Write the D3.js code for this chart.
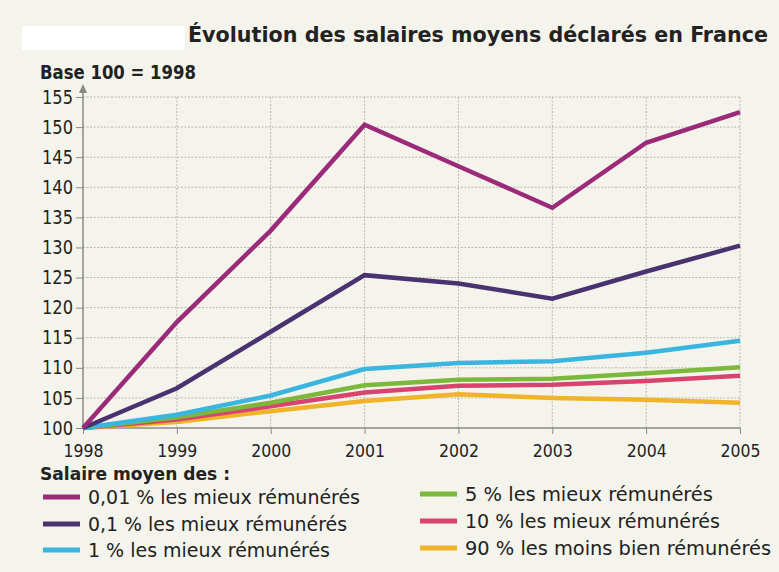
<!DOCTYPE html>
<html>
<head>
<meta charset="utf-8">
<script src="https://cdn.jsdelivr.net/npm/d3@7"></script>
<style>
  html, body { margin: 0; padding: 0; background: #f5f4ec; }
  svg { display: block; }
  text { font-family: 'DejaVu Sans Condensed', 'Liberation Sans Narrow', 'Roboto', sans-serif; fill: #222; }
</style>
</head>
<body>
<div id="chart"></div>
<script>
const years = [1998, 1999, 2000, 2001, 2002, 2003, 2004, 2005]
const yTicks = [100, 105, 110, 115, 120, 125, 130, 135, 140, 145, 150, 155]

const top001 = [100, 117.6, 132.8, 150.4, 143.5, 136.6, 147.4, 152.5]
const top01 = [100, 106.6, 116.0, 125.4, 124.0, 121.5, 126.0, 130.3]
const top1 = [100, 102.2, 105.4, 109.8, 110.8, 111.1, 112.5, 114.5]
const top5 = [100, 101.8, 104.2, 107.1, 108.0, 108.2, 109.1, 110.1]
const top10 = [100, 101.4, 103.6, 105.9, 107.0, 107.2, 107.8, 108.7]
const bottom90 = [100, 101.0, 102.8, 104.5, 105.6, 105.0, 104.7, 104.2]

const seriesNames = [
  '0,01 % les mieux rémunérés',
  '0,1 % les mieux rémunérés',
  '1 % les mieux rémunérés',
  '5 % les mieux rémunérés',
  '10 % les mieux rémunérés',
  '90 % les moins bien rémunérés'
]
const seriesValues = [top001, top01, top1, top5, top10, bottom90]
const seriesColors = ['#9b2a78', '#4a3270', '#3ab5e0', '#7cb83c', '#d8446f', '#efb42a']

const width = 779, height = 572
const svg = d3.select('#chart').append('svg')
  .attr('width', width)
  .attr('height', height)

svg.append('rect')
  .attr('width', width).attr('height', height)
  .attr('fill', '#f5f4ec')

// blank patch at top left
svg.append('rect')
  .attr('x', 22).attr('y', 26).attr('width', 163).attr('height', 24)
  .attr('fill', '#ffffff')

const x = d3.scaleLinear().domain([1998, 2005]).range([83, 740])
const y = d3.scaleLinear().domain([100, 155]).range([428, 97])

// grid
svg.append('g').selectAll('line.hgrid')
  .data(yTicks.slice(1))
  .join('line')
  .attr('class', 'hgrid')
  .attr('x1', x(1998)).attr('x2', x(2005))
  .attr('y1', d => y(d)).attr('y2', d => y(d))
  .attr('stroke', '#b9b8b0').attr('stroke-width', 1)
  .attr('stroke-dasharray', '2,1.5')
svg.append('g').selectAll('line.vgrid')
  .data(years.slice(1))
  .join('line')
  .attr('class', 'vgrid')
  .attr('x1', d => x(d)).attr('x2', d => x(d))
  .attr('y1', y(155)).attr('y2', y(100))
  .attr('stroke', '#b9b8b0').attr('stroke-width', 1)
  .attr('stroke-dasharray', '2,1.5')

// axes
const yAxis = d3.axisLeft(y).tickValues(yTicks).tickSize(7).tickPadding(3)
svg.append('g')
  .attr('transform', `translate(${x(1998)},0)`)
  .call(yAxis)
  .call(g => g.select('.domain').remove())
  .call(g => g.selectAll('line').attr('stroke', '#8a8a86'))
  .call(g => g.selectAll('text')
    .attr('font-size', 19).attr('font-family', null).attr('fill', '#222')
    .attr('textLength', 31).attr('lengthAdjust', 'spacingAndGlyphs'))

const xAxis = d3.axisBottom(x).tickValues(years).tickFormat(d3.format('d')).tickSize(6).tickPadding(11)
svg.append('g')
  .attr('transform', `translate(0,${y(100)})`)
  .call(xAxis)
  .call(g => g.select('.domain').remove())
  .call(g => g.selectAll('line').attr('stroke', '#8a8a86'))
  .call(g => g.selectAll('text')
    .attr('font-size', 17).attr('font-family', null).attr('fill', '#222')
    .attr('textLength', 40).attr('lengthAdjust', 'spacingAndGlyphs'))

svg.append('line')
  .attr('x1', x(1998)).attr('x2', x(2005))
  .attr('y1', y(100)).attr('y2', y(100))
  .attr('stroke', '#8a8a86').attr('stroke-width', 1.5)
svg.append('line')
  .attr('x1', x(1998)).attr('x2', x(1998))
  .attr('y1', y(100)).attr('y2', 90)
  .attr('stroke', '#8a8a86').attr('stroke-width', 1.5)
svg.append('path')
  .attr('d', `M${x(1998)},84 L${x(1998) - 4},93 L${x(1998) + 4},93 Z`)
  .attr('fill', '#8a8a86')

// lines
const line = d3.line()
  .x((d, i) => x(years[i]))
  .y(d => y(d))

svg.append('g').selectAll('path.serie')
  .data(seriesValues.map((v, i) => ({ values: v, color: seriesColors[i] })).reverse())
  .join('path')
  .attr('class', 'serie')
  .attr('d', d => line(d.values))
  .attr('fill', 'none')
  .attr('stroke', d => d.color)
  .attr('stroke-width', 4.5)
  .attr('stroke-linejoin', 'miter')

// titles
svg.append('text')
  .attr('x', 188).attr('y', 42)
  .attr('font-size', 21).attr('font-weight', 'bold')
  .attr('textLength', 580).attr('lengthAdjust', 'spacingAndGlyphs')
  .text('Évolution des salaires moyens déclarés en France')

svg.append('text')
  .attr('x', 40).attr('y', 79)
  .attr('font-size', 19).attr('font-weight', 'bold')
  .attr('textLength', 156).attr('lengthAdjust', 'spacingAndGlyphs')
  .text('Base 100 = 1998')

// legend
svg.append('text')
  .attr('x', 40).attr('y', 480)
  .attr('font-size', 18).attr('font-weight', 'bold')
  .attr('textLength', 190).attr('lengthAdjust', 'spacingAndGlyphs')
  .text('Salaire moyen des :')

const legendPos = [
  [43, 497], [43, 524], [43, 550],
  [420, 494], [420, 521], [420, 548]
]
const legendWidths = [272, 259, 242, 248, 255, 306]
const legend = svg.append('g').selectAll('g.item')
  .data(seriesNames.map((n, i) => ({ name: n, color: seriesColors[i], pos: legendPos[i], w: legendWidths[i] })))
  .join('g')
  .attr('class', 'item')
  .attr('transform', d => `translate(${d.pos[0]},${d.pos[1]})`)
legend.append('line')
  .attr('x1', 0).attr('x2', 37)
  .attr('y1', 0).attr('y2', 0)
  .attr('stroke', d => d.color).attr('stroke-width', 5)
legend.append('text')
  .attr('x', 45).attr('y', 7)
  .attr('font-size', 19)
  .attr('textLength', d => d.w).attr('lengthAdjust', 'spacingAndGlyphs')
  .text(d => d.name)
</script>
</body>
</html>
